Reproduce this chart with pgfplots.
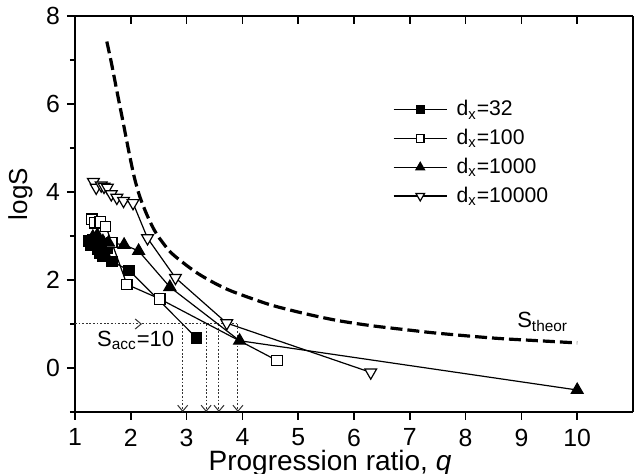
\documentclass[border=0pt]{standalone}
\usepackage{fontspec}
\setmainfont{Liberation Sans}
\usepackage{pgfplots}
\pgfplotsset{compat=1.18}
\usetikzlibrary{arrows.meta}

\newcommand{\tickfont}{\fontsize{12.4}{14}\selectfont}
\newcommand{\legfont}{\fontsize{10.6}{12}\selectfont}

\pgfplotsset{
  frame/.style={
    at={(0,0)}, anchor=south west, scale only axis,
    width=279pt, height=198pt,
    xmin=1, xmax=11, ymin=-1, ymax=8,
    axis line style={line width=1pt},
    /pgf/number format/assume math mode=true,
  },
}

\begin{document}
\begin{tikzpicture}
\useasboundingbox (-37.5pt,-31pt) rectangle (283pt,206pt);

% mirrored frame: top and right, ticks inside
\begin{axis}[frame,
  axis x line*=top, axis y line*=right,
  tick align=inside,
  xtick={1,...,10}, ytick=\empty, minor ytick={-1,...,8},
  xticklabels={},
  major tick length=4pt, minor tick length=2pt,
  tick style={line width=0.8pt, black},
]
\addplot[draw=none] coordinates {(1,0)};
\end{axis}

\begin{axis}[frame,
  axis x line*=bottom, axis y line*=left,
  tick align=outside,
  xtick={1,...,10}, ytick={0,2,...,8}, minor ytick={-1,1,...,7},
  major tick length=4pt, minor tick length=2.5pt,
  tick style={line width=0.8pt, black},
  ticklabel style={font=\tickfont},
  xticklabel style={inner sep=0pt, yshift=-4.2pt},
  xlabel={Progression ratio, \textit{q}},
  xlabel style={font=\fontsize{14}{16}\selectfont, inner sep=0pt,
    at={(axis description cs:0.457,0)}, anchor=base, yshift=-29.5pt},
  ylabel={logS},
  ylabel style={font=\fontsize{13}{15}\selectfont, at={(axis description cs:-0.086,0.55)}, anchor=base},
  legend style={at={(axis description cs:0.569,0.79)}, anchor=north west,
    draw=none, fill=none, font=\legfont, row sep=4.2pt,
    inner sep=0pt, nodes={inner sep=0.5pt}, cells={anchor=west},
    /tikz/every odd column/.append style={column sep=4pt}},
  legend image code/.code={
    \draw[#1] (0cm,0cm) -- (0.94cm,0cm);
    \draw[#1, every mark/.append style={scale=0.72}] plot coordinates {(0.47cm,0cm)};
  },
  every axis plot/.append style={line width=0.6pt},
]

% theoretical curve
\addplot[forget plot, black, line width=1.6pt, dash pattern=on 6pt off 2.5pt, smooth] coordinates {
 (1.57,7.42) (1.65,6.95) (1.75,6.30) (1.86,5.60) (1.96,4.95) (2.06,4.35) (2.16,3.90)
 (2.30,3.45) (2.46,3.05) (2.70,2.65) (2.93,2.40) (3.20,2.15) (3.50,1.93) (3.80,1.75)
 (4.30,1.52) (4.60,1.40) (5.14,1.23) (5.70,1.08) (6.32,0.96) (7.00,0.86) (7.50,0.79)
 (8.50,0.68) (9.30,0.62) (10.00,0.57)};

% S_acc = 10 construction
\addplot[forget plot, black!80, line width=0.5pt, dash pattern=on 0.9pt off 0.9pt,
  -{Straight Barb[length=3pt,width=5pt,line width=0.5pt]}] coordinates {(1,1) (2.2,1)};
\addplot[forget plot, black!80, line width=0.5pt, dash pattern=on 0.9pt off 0.9pt] coordinates {(2.2,1) (3.93,1)};
\addplot[forget plot, black!80, line width=0.5pt, dash pattern=on 0.9pt off 0.9pt,
  -{Straight Barb[length=3pt,width=5pt,line width=0.5pt]}] coordinates {(2.93,1) (2.93,-1)};
\addplot[forget plot, black!80, line width=0.5pt, dash pattern=on 0.9pt off 0.9pt,
  -{Straight Barb[length=3pt,width=5pt,line width=0.5pt]}] coordinates {(3.35,1) (3.35,-1)};
\addplot[forget plot, black!80, line width=0.5pt, dash pattern=on 0.9pt off 0.9pt,
  -{Straight Barb[length=3pt,width=5pt,line width=0.5pt]}] coordinates {(3.58,1) (3.58,-1)};
\addplot[forget plot, black!80, line width=0.5pt, dash pattern=on 0.9pt off 0.9pt,
  -{Straight Barb[length=3pt,width=5pt,line width=0.5pt]}] coordinates {(3.92,1) (3.92,-1)};

% d_x = 32
\addplot[black, mark=square*, mark size=2.6pt, mark options={solid, fill=black}] coordinates {
 (1.25,2.88) (1.28,2.78) (1.32,2.92) (1.36,2.82) (1.40,2.70) (1.44,2.62) (1.50,2.55)
 (1.58,2.72) (1.66,2.42) (1.97,2.22) (3.18,0.68)};
% d_x = 100
\addplot[black, mark=square*, mark size=2.6pt, mark options={solid, fill=white}] coordinates {
 (1.30,3.38) (1.36,3.30) (1.45,3.32) (1.55,3.22) (1.66,2.85) (1.93,1.90) (2.52,1.57) (4.62,0.17)};
% d_x = 1000
\addplot[black, mark=triangle*, mark size=3.4pt, mark options={solid, fill=black}] coordinates {
 (1.32,2.98) (1.40,3.02) (1.50,2.88) (1.60,2.85) (1.88,2.80) (2.14,2.66) (2.70,1.84) (3.95,0.62) (10.00,-0.50)};
% d_x = 10000
\addplot[black, mark=triangle*, mark size=3.4pt, mark options={solid, fill=white, rotate=180}] coordinates {
 (1.33,4.23) (1.38,4.10) (1.47,4.15) (1.52,4.12) (1.58,4.10) (1.65,3.95) (1.75,3.87)
 (1.87,3.80) (2.04,3.75) (2.30,2.95) (2.80,2.05) (3.72,1.02) (6.30,-0.10)};

\legend{d\textsubscript{x}=32, d\textsubscript{x}=100, d\textsubscript{x}=1000, d\textsubscript{x}=10000}

\node[anchor=west, font=\fontsize{11}{13}\selectfont] at (axis cs:1.27,0.62) {S\textsubscript{acc}=10};
\node[anchor=west, font=\fontsize{11}{13}\selectfont] at (axis cs:8.8,1.05) {S\textsubscript{theor}};
\end{axis}
\end{tikzpicture}
\end{document}
